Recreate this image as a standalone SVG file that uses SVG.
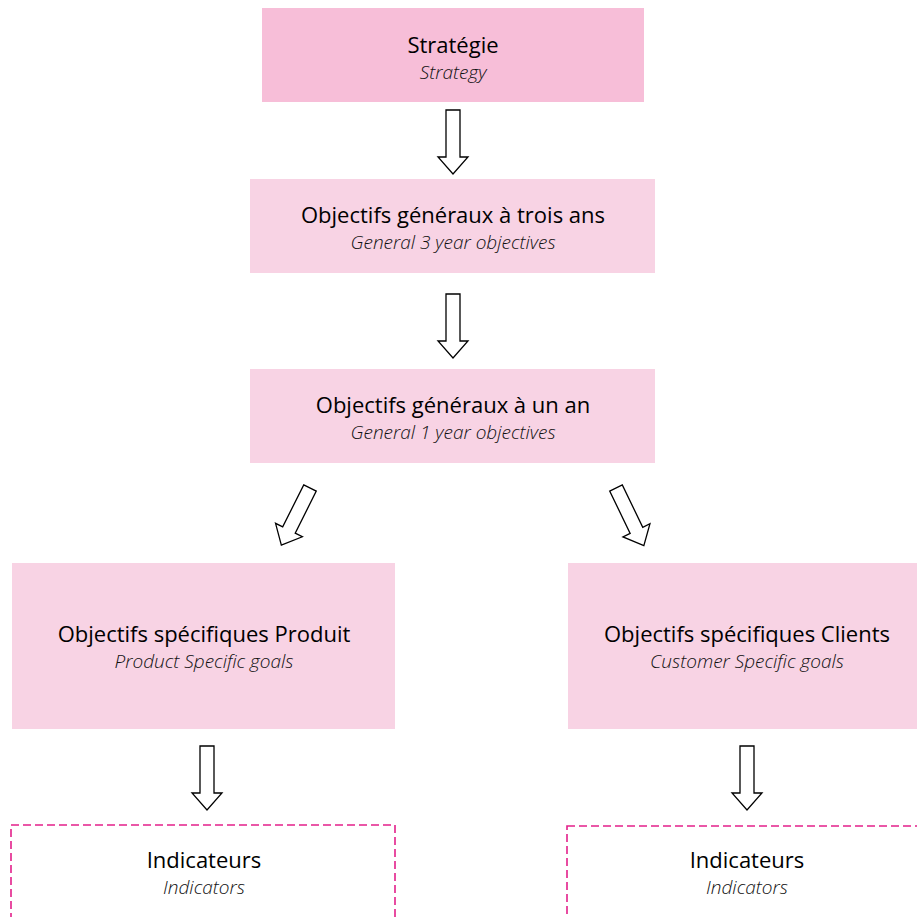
<svg xmlns="http://www.w3.org/2000/svg" width="917" height="917" viewBox="0 0 917 917">
<defs>
<style>
.box{fill:#f8d3e4;}
.box1{fill:#f7bed8;}
.ind{fill:#ffffff;stroke:#e3208a;stroke-width:1.6;stroke-dasharray:8 4;}
.t{font-family:"Open Sans",Lato,sans-serif;font-size:22px;fill:#000;text-anchor:middle;}
.s{font-family:"Open Sans",Lato,sans-serif;font-style:italic;font-weight:300;font-size:19px;fill:#111;text-anchor:middle;}
.arr{fill:#ffffff;stroke:#000;stroke-width:1.3;stroke-linejoin:miter;}
</style>
<polygon id="arrow" class="arr" points="-7,0 7,0 7,47 15,47 0,64 -15,47 -7,47"/>
</defs>
<g id="connectors">
<use href="#arrow" transform="translate(453,110)"/>
<use href="#arrow" transform="translate(453,294)"/>
<use href="#arrow" transform="translate(310,488) rotate(26.6)"/>
<use href="#arrow" transform="translate(616,488) rotate(-25.8)"/>
<use href="#arrow" transform="translate(207,746)"/>
<use href="#arrow" transform="translate(747,746)"/>
</g>
<g id="n-strategie">
<rect class="box1" x="262" y="8" width="382" height="94"/>
<text class="t" x="453" y="53">Stratégie</text>
<text class="s" x="453" y="79">Strategy</text>
</g>
<g id="n-3ans">
<rect class="box" x="250" y="179" width="405" height="94"/>
<text class="t" x="453" y="223">Objectifs généraux à trois ans</text>
<text class="s" x="453" y="249">General 3 year objectives</text>
</g>
<g id="n-1an">
<rect class="box" x="250" y="369" width="405" height="94"/>
<text class="t" x="453" y="413">Objectifs généraux à un an</text>
<text class="s" x="453" y="439">General 1 year objectives</text>
</g>
<g id="n-produit">
<rect class="box" x="12" y="563" width="383" height="166"/>
<text class="t" x="204" y="642">Objectifs spécifiques Produit</text>
<text class="s" x="204" y="668">Product Specific goals</text>
</g>
<g id="n-clients">
<rect class="box" x="568" y="563" width="360" height="166"/>
<text class="t" x="747" y="642">Objectifs spécifiques Clients</text>
<text class="s" x="747" y="668">Customer Specific goals</text>
</g>
<g id="n-ind-produit">
<rect class="ind" x="11" y="825" width="384" height="120"/>
<text class="t" x="204" y="868">Indicateurs</text>
<text class="s" x="204" y="894">Indicators</text>
</g>
<g id="n-ind-clients">
<rect class="ind" x="567" y="826" width="380" height="120"/>
<text class="t" x="747" y="868">Indicateurs</text>
<text class="s" x="747" y="894">Indicators</text>
</g>
</svg>
